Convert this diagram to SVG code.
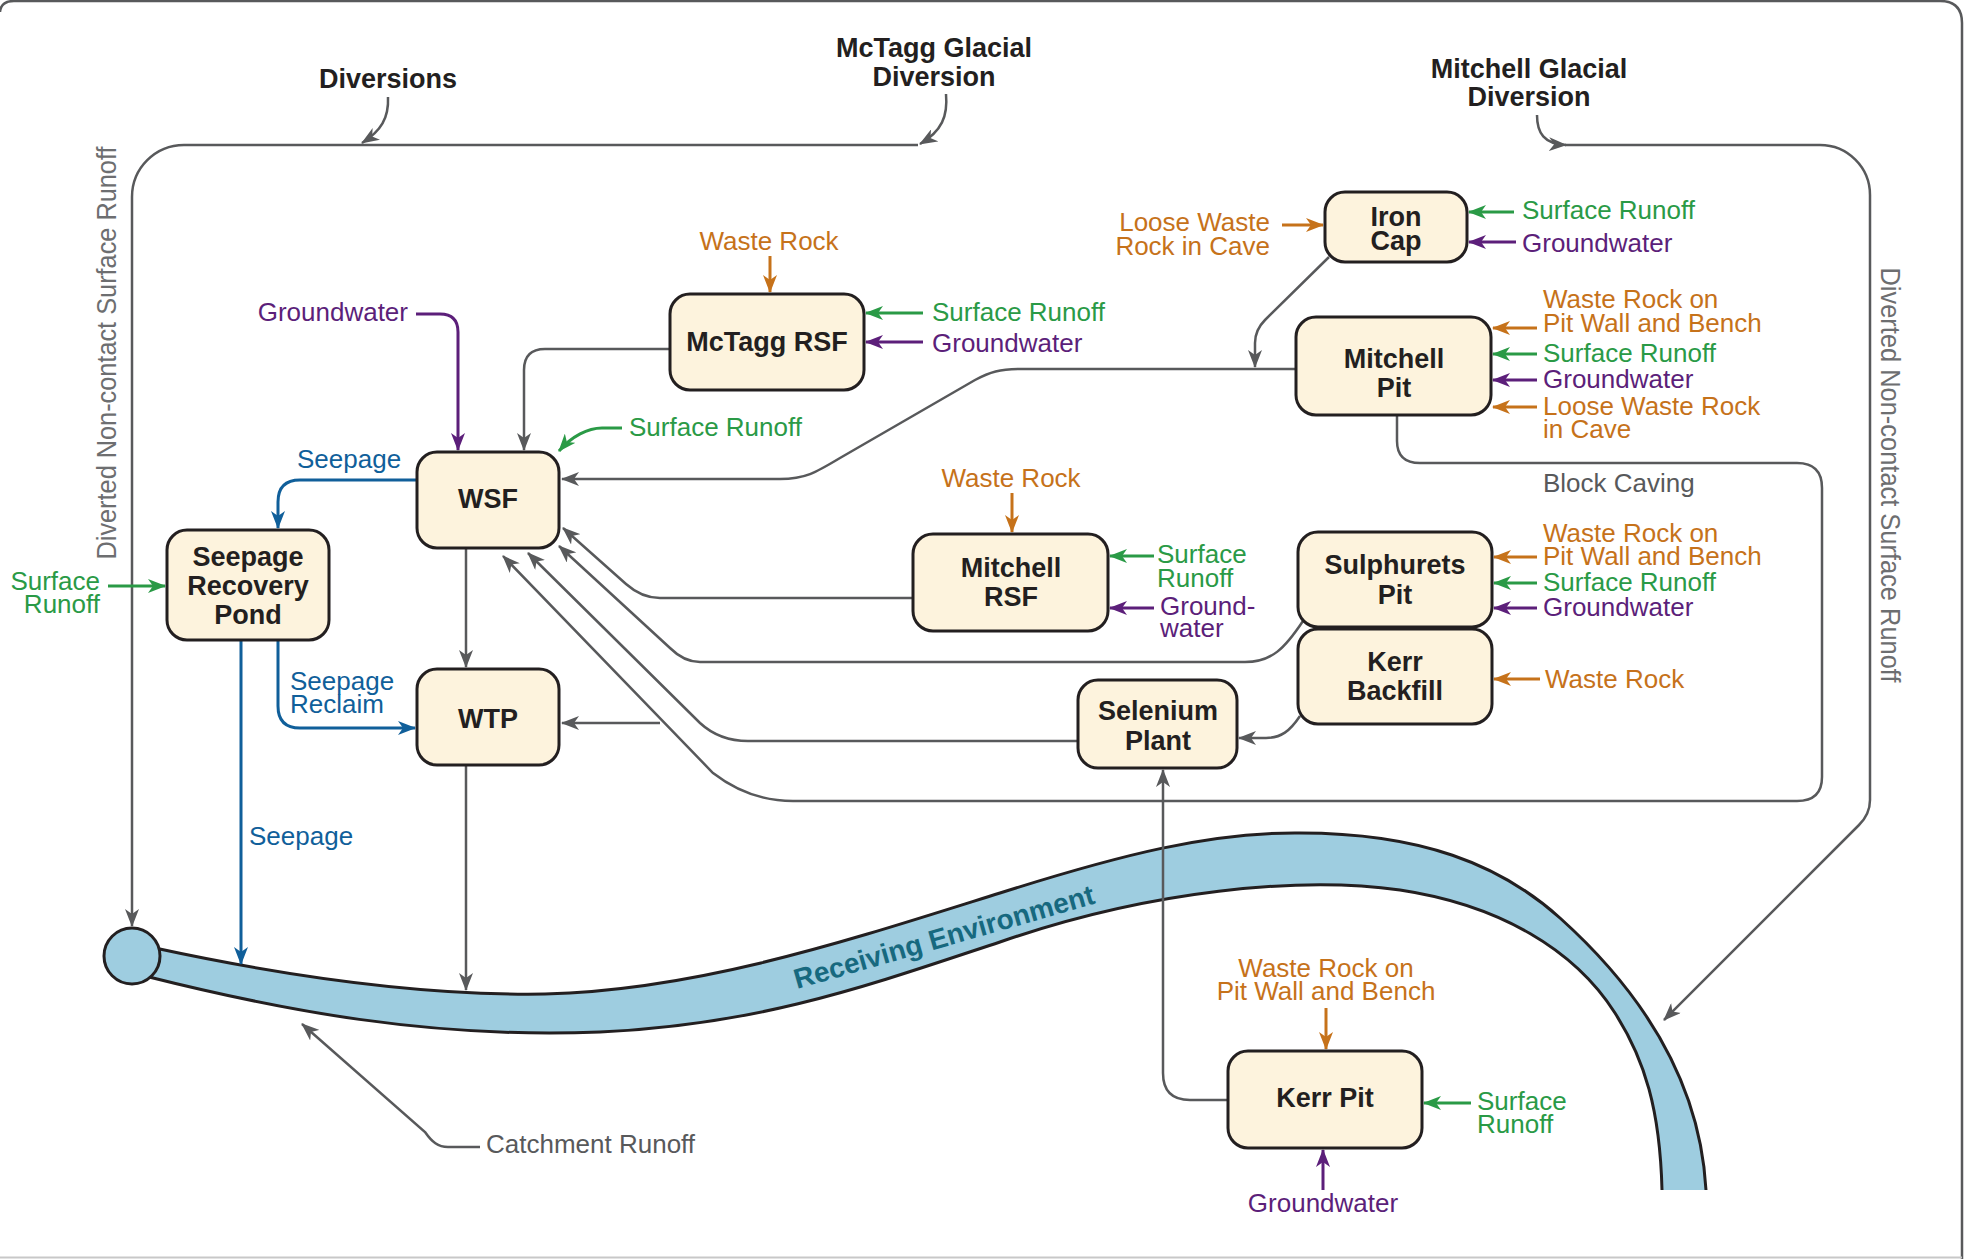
<svg xmlns="http://www.w3.org/2000/svg" width="1965" height="1259" viewBox="0 0 1965 1259">
<style>
text{font-family:"Liberation Sans",Arial,sans-serif;font-size:26px}
.hd{font-weight:bold;font-size:27px;fill:#231f20;text-anchor:middle}
.nd{font-weight:bold;font-size:27px;fill:#231f20;text-anchor:middle}
.box{fill:#fdf3dd;stroke:#231f20;stroke-width:3}
.gc{fill:none;stroke:#58595b;stroke-width:2.5;marker-end:url(#mg)}
.pc{fill:none;stroke:#5c1f7a;stroke-width:3;marker-end:url(#mp)}
.grc{fill:none;stroke:#2a9a46;stroke-width:3;marker-end:url(#mgr)}
.oc{fill:none;stroke:#c6721a;stroke-width:3;marker-end:url(#mo)}
.bc{fill:none;stroke:#105f9a;stroke-width:3;marker-end:url(#mb)}
.tp{fill:#5c1f7a}.tg{fill:#2a9a46}.to{fill:#c6721a}.tb{fill:#105f9a}.tgy{fill:#58595b}
.vt{fill:#6d6e70;font-size:27px;text-anchor:middle}
</style>
<defs>
<marker id="mg" viewBox="0 0 18 14" refX="17" refY="7" markerWidth="18" markerHeight="14" markerUnits="userSpaceOnUse" orient="auto"><path d="M0,0 L18,7 L0,14 L5,7 Z" fill="#58595b"/></marker>
<marker id="mp" viewBox="0 0 18 14" refX="17" refY="7" markerWidth="18" markerHeight="14" markerUnits="userSpaceOnUse" orient="auto"><path d="M0,0 L18,7 L0,14 L5,7 Z" fill="#5c1f7a"/></marker>
<marker id="mgr" viewBox="0 0 18 14" refX="17" refY="7" markerWidth="18" markerHeight="14" markerUnits="userSpaceOnUse" orient="auto"><path d="M0,0 L18,7 L0,14 L5,7 Z" fill="#2a9a46"/></marker>
<marker id="mo" viewBox="0 0 18 14" refX="17" refY="7" markerWidth="18" markerHeight="14" markerUnits="userSpaceOnUse" orient="auto"><path d="M0,0 L18,7 L0,14 L5,7 Z" fill="#c6721a"/></marker>
<marker id="mb" viewBox="0 0 18 14" refX="17" refY="7" markerWidth="18" markerHeight="14" markerUnits="userSpaceOnUse" orient="auto"><path d="M0,0 L18,7 L0,14 L5,7 Z" fill="#105f9a"/></marker>
</defs>
<rect width="1965" height="1259" fill="#ffffff"/>
<!-- frame -->
<path d="M0,12 Q1,1 14,1 H1940 Q1962,1 1962,23 V1259" fill="none" stroke="#58595b" stroke-width="2.5"/>
<line x1="0" y1="1257.5" x2="1962" y2="1257.5" stroke="#c8c8c8" stroke-width="2"/>

<!-- receiving environment -->
<g id="receiving-environment">
<path d="M155,948 C280,975 420,996 545,994 C700,990 850,940 1000,893 C1120,855 1210,832 1300,833 C1420,833 1500,864 1560,918 C1640,990 1700,1080 1706,1190 L1662,1190 C1660,1110 1645,1060 1615,1013 C1575,950 1500,905 1400,890 C1300,876 1150,890 1000,942 C870,985 760,1025 600,1032 C430,1039 280,1010 145,976 Z" fill="#9ecde0"/>
<path d="M155,948 C280,975 420,996 545,994 C700,990 850,940 1000,893 C1120,855 1210,832 1300,833 C1420,833 1500,864 1560,918 C1640,990 1700,1080 1706,1190" fill="none" stroke="#231f20" stroke-width="3"/>
<path d="M1662,1190 C1660,1110 1645,1060 1615,1013 C1575,950 1500,905 1400,890 C1300,876 1150,890 1000,942 C870,985 760,1025 600,1032 C430,1039 280,1010 145,976" fill="none" stroke="#231f20" stroke-width="3"/>
<circle cx="132" cy="956" r="28" fill="#9ecde0" stroke="#231f20" stroke-width="3"/>
<text transform="translate(797,989) rotate(-16)" style="font-weight:bold;font-size:28px;fill:#17697f">Receiving Environment</text>
</g>

<!-- connectors -->
<g id="connectors">
<path class="gc" d="M918,145 H184 A52,52 0 0 0 132,197 V926"/>
<path class="gc" d="M1565,145 H1820 A50,50 0 0 1 1870,195 V800 Q1870,814 1859,825 L1664,1020"/>
<path class="gc" d="M388,97 C389,118 381,131 362,143"/>
<path class="gc" d="M946,94 C948,116 942,131 920,144"/>
<path class="gc" d="M1537,115 C1537,133 1544,144 1566,145"/>
<path class="gc" d="M670,349 H545 Q524,349 524,370 V450"/>
<path class="gc" d="M466,548 V667"/>
<path class="gc" d="M466,765 V990"/>
<path class="gc" d="M1296,369 H1020 C1000,369 990,372 975,380 L840,458 C815,473 805,479 780,479 H562"/>
<path class="gc" d="M1329,257 L1265,320 Q1255,330 1255,343 V367"/>
<path class="gc" d="M913,598 H660 C645,598 635,592 626,584 L563,528"/>
<path class="gc" d="M1303,621 C1285,648 1272,662 1245,662 H700 C688,662 678,656 670,648 L559,546"/>
<path class="gc" d="M1078,741 H748 C728,741 713,735 700,723 L528,553"/>
<path class="gc" d="M1397,415 V441 Q1397,463 1420,463 H1797 Q1822,463 1822,488 V777 Q1822,801 1797,801 H793 C760,801 735,790 713,773 L503,556"/>
<path class="gc" d="M660,723 H562"/>
<path class="gc" d="M1300,716 C1290,731 1281,738 1266,738 H1239"/>
<path class="gc" d="M1228,1100 H1190 Q1163,1100 1163,1073 V770"/>
<path class="gc" d="M480,1147 H448 C438,1147 432,1142 425,1132 L302,1024"/>
<path class="bc" d="M417,480 H300 Q278,480 278,502 V528"/>
<path class="bc" d="M278,640 V706 Q278,728 300,728 H415"/>
<path class="bc" d="M241,641 V964"/>
<path class="pc" d="M416,314 H440 Q458,314 458,332 V450"/>
<path class="grc" d="M622,428 H602 C588,428 572,436 559,451"/>
<path class="grc" d="M108,586 H165"/>
<path class="oc" d="M770,256 V292"/>
<path class="grc" d="M923,313 H866"/>
<path class="pc" d="M923,342 H866"/>
<path class="oc" d="M1282,225 H1323"/>
<path class="grc" d="M1514,212 H1469"/>
<path class="pc" d="M1516,242 H1469"/>
<path class="oc" d="M1537,328 H1493"/>
<path class="grc" d="M1537,354 H1493"/>
<path class="pc" d="M1537,380 H1493"/>
<path class="oc" d="M1537,407 H1493"/>
<path class="oc" d="M1537,557 H1494"/>
<path class="grc" d="M1537,583 H1494"/>
<path class="pc" d="M1537,608 H1494"/>
<path class="oc" d="M1540,679 H1494"/>
<path class="oc" d="M1012,493 V532"/>
<path class="grc" d="M1154,556 H1110"/>
<path class="pc" d="M1154,608 H1110"/>
<path class="oc" d="M1326,1008 V1049"/>
<path class="grc" d="M1471,1103 H1424"/>
<path class="pc" d="M1323,1190 V1150"/>
</g>

<!-- nodes -->
<g id="node-mctagg-rsf"><rect class="box" x="670" y="294" width="194" height="96" rx="20"/><text class="nd" x="767" y="351">McTagg RSF</text></g>
<g id="node-wsf"><rect class="box" x="417" y="452" width="142" height="96" rx="20"/><text class="nd" x="488" y="508">WSF</text></g>
<g id="node-seepage-recovery-pond"><rect class="box" x="167" y="530" width="162" height="110" rx="20"/><text class="nd"><tspan x="248" y="566">Seepage</tspan><tspan x="248" y="595">Recovery</tspan><tspan x="248" y="624">Pond</tspan></text></g>
<g id="node-wtp"><rect class="box" x="417" y="669" width="142" height="96" rx="20"/><text class="nd" x="488" y="728">WTP</text></g>
<g id="node-mitchell-rsf"><rect class="box" x="913" y="534" width="195" height="97" rx="20"/><text class="nd"><tspan x="1011" y="577">Mitchell</tspan><tspan x="1011" y="606">RSF</tspan></text></g>
<g id="node-selenium-plant"><rect class="box" x="1078" y="680" width="159" height="88" rx="20"/><text class="nd"><tspan x="1158" y="720">Selenium</tspan><tspan x="1158" y="750">Plant</tspan></text></g>
<g id="node-iron-cap"><rect class="box" x="1325" y="192" width="142" height="70" rx="20"/><text class="nd"><tspan x="1396" y="226">Iron</tspan><tspan x="1396" y="250">Cap</tspan></text></g>
<g id="node-mitchell-pit"><rect class="box" x="1296" y="317" width="195" height="98" rx="20"/><text class="nd"><tspan x="1394" y="368">Mitchell</tspan><tspan x="1394" y="397">Pit</tspan></text></g>
<g id="node-sulphurets-pit"><rect class="box" x="1298" y="532" width="194" height="95" rx="20"/><text class="nd"><tspan x="1395" y="574">Sulphurets</tspan><tspan x="1395" y="604">Pit</tspan></text></g>
<g id="node-kerr-backfill"><rect class="box" x="1298" y="629" width="194" height="95" rx="20"/><text class="nd"><tspan x="1395" y="671">Kerr</tspan><tspan x="1395" y="700">Backfill</tspan></text></g>
<g id="node-kerr-pit"><rect class="box" x="1228" y="1051" width="194" height="97" rx="20"/><text class="nd" x="1325" y="1107">Kerr Pit</text></g>

<!-- labels -->
<g id="labels">
<text class="hd" x="388" y="88">Diversions</text>
<text class="hd"><tspan x="934" y="57">McTagg Glacial</tspan><tspan x="934" y="86">Diversion</tspan></text>
<text class="hd"><tspan x="1529" y="78">Mitchell Glacial</tspan><tspan x="1529" y="106">Diversion</tspan></text>
<text class="vt" transform="translate(116,353) rotate(-90)" textLength="413" lengthAdjust="spacingAndGlyphs">Diverted Non-contact Surface Runoff</text>
<text class="vt" transform="translate(1881,475) rotate(90)" textLength="415" lengthAdjust="spacingAndGlyphs">Diverted Non-contact Surface Runoff</text>

<text class="tp" x="408" y="321" text-anchor="end">Groundwater</text>
<text class="tg" x="629" y="436">Surface Runoff</text>
<text class="tb" x="297" y="468">Seepage</text>
<text class="tg" text-anchor="end"><tspan x="100" y="590">Surface</tspan><tspan x="100" y="613">Runoff</tspan></text>
<text class="tb"><tspan x="290" y="690">Seepage</tspan><tspan x="290" y="713">Reclaim</tspan></text>
<text class="tb" x="249" y="845">Seepage</text>
<text class="tgy" x="486" y="1153">Catchment Runoff</text>

<text class="to" x="769" y="250" text-anchor="middle">Waste Rock</text>
<text class="tg" x="932" y="321">Surface Runoff</text>
<text class="tp" x="932" y="352">Groundwater</text>

<text class="to" text-anchor="end"><tspan x="1270" y="231">Loose Waste</tspan><tspan x="1270" y="255">Rock in Cave</tspan></text>
<text class="tg" x="1522" y="219">Surface Runoff</text>
<text class="tp" x="1522" y="252">Groundwater</text>

<text class="to"><tspan x="1543" y="308">Waste Rock on</tspan><tspan x="1543" y="332">Pit Wall and Bench</tspan></text>
<text class="tg" x="1543" y="362">Surface Runoff</text>
<text class="tp" x="1543" y="388">Groundwater</text>
<text class="to"><tspan x="1543" y="415">Loose Waste Rock</tspan><tspan x="1543" y="438">in Cave</tspan></text>
<text class="tgy" x="1543" y="492">Block Caving</text>

<text class="to"><tspan x="1543" y="542">Waste Rock on</tspan><tspan x="1543" y="565">Pit Wall and Bench</tspan></text>
<text class="tg" x="1543" y="591">Surface Runoff</text>
<text class="tp" x="1543" y="616">Groundwater</text>
<text class="to" x="1545" y="688">Waste Rock</text>

<text class="to" x="1011" y="487" text-anchor="middle">Waste Rock</text>
<text class="tg"><tspan x="1157" y="563">Surface</tspan><tspan x="1157" y="587">Runoff</tspan></text>
<text class="tp"><tspan x="1160" y="615">Ground-</tspan><tspan x="1160" y="637">water</tspan></text>

<text class="to" text-anchor="middle"><tspan x="1326" y="977">Waste Rock on</tspan><tspan x="1326" y="1000">Pit Wall and Bench</tspan></text>
<text class="tg"><tspan x="1477" y="1110">Surface</tspan><tspan x="1477" y="1133">Runoff</tspan></text>
<text class="tp" x="1323" y="1212" text-anchor="middle">Groundwater</text>
</g>
</svg>
